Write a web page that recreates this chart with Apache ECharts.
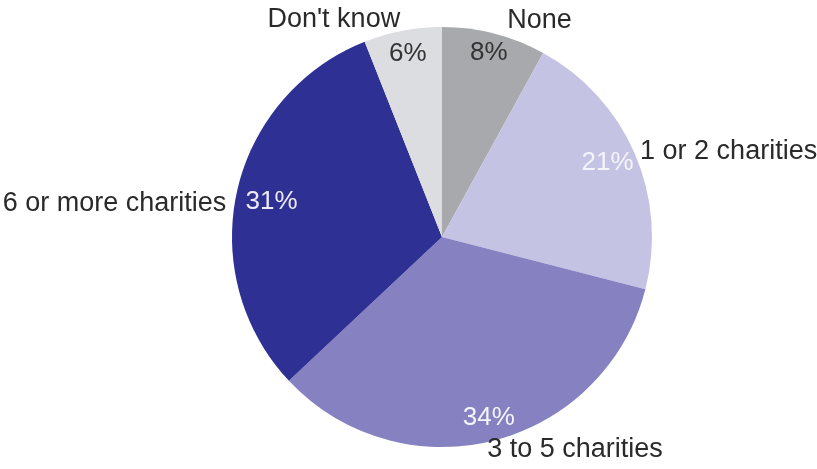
<!DOCTYPE html>
<html>
<head>
<meta charset="utf-8">
<script src="https://cdn.jsdelivr.net/npm/echarts@6/dist/echarts.min.js"></script>
<style>
  html, body { margin: 0; padding: 0; background: #ffffff; }
  #chart { width: 817px; height: 469px; }
</style>
</head>
<body>
<div id="chart"></div>
<script>
// Number of charities supported (share of respondents, %)
const categories = ['None', '1 or 2 charities', '3 to 5 charities', '6 or more charities', "Don't know"];
const shares = [8, 21, 34, 31, 6];

const sliceColors = ['#a8a9ac', '#c4c3e3', '#8682c1', '#2e3093', '#dcdde0'];
const pctColors = ['#333333', '#f4f4fa', '#f4f4fa', '#ececf8', '#333333'];
// fine nudges for the outside name labels and the rim percentages
const nameNudge = [[6, -5], [-7, 1], [-14, 1], [2, 14], [4, -3]];
const pctNudge = [[0, -2], [-7, 0], [0, -1], [13, 6], [1, 1]];

const FONT = '"Liberation Sans", Arial, Helvetica, sans-serif';
const center = [442, 237];

const chart = echarts.init(document.getElementById('chart'), null, { renderer: 'canvas' });

chart.setOption({
  backgroundColor: '#ffffff',
  animation: false,
  series: [
    {
      type: 'pie',
      center: center,
      radius: 210,
      startAngle: 90,
      clockwise: true,
      avoidLabelOverlap: false,
      itemStyle: { borderWidth: 0 },
      label: {
        show: true,
        position: 'outside',
        formatter: '{b}',
        fontFamily: FONT,
        fontSize: 27,
        color: '#2a2a2a',
        distanceToLabelLine: 5
      },
      labelLine: { show: false, length: 8, length2: 0 },
      labelLayout: function (p) {
        const n = nameNudge[p.dataIndex];
        return { dx: n[0], dy: n[1] };
      },
      emphasis: { disabled: true },
      data: categories.map((c, i) => ({
        name: c,
        value: shares[i],
        itemStyle: { color: sliceColors[i] }
      }))
    },
    {
      // transparent ring carrying the percentage labels near the rim
      type: 'pie',
      center: center,
      radius: [160, 210],
      startAngle: 90,
      clockwise: true,
      silent: true,
      avoidLabelOverlap: false,
      itemStyle: { color: 'rgba(0,0,0,0)', borderWidth: 0 },
      label: {
        show: true,
        position: 'inside',
        formatter: '{c}%',
        fontFamily: FONT,
        fontSize: 26
      },
      labelLine: { show: false },
      labelLayout: function (p) {
        const n = pctNudge[p.dataIndex];
        return { dx: n[0], dy: n[1] };
      },
      emphasis: { disabled: true },
      data: categories.map((c, i) => ({
        name: c,
        value: shares[i],
        label: { color: pctColors[i] }
      }))
    }
  ]
});
</script>
</body>
</html>
